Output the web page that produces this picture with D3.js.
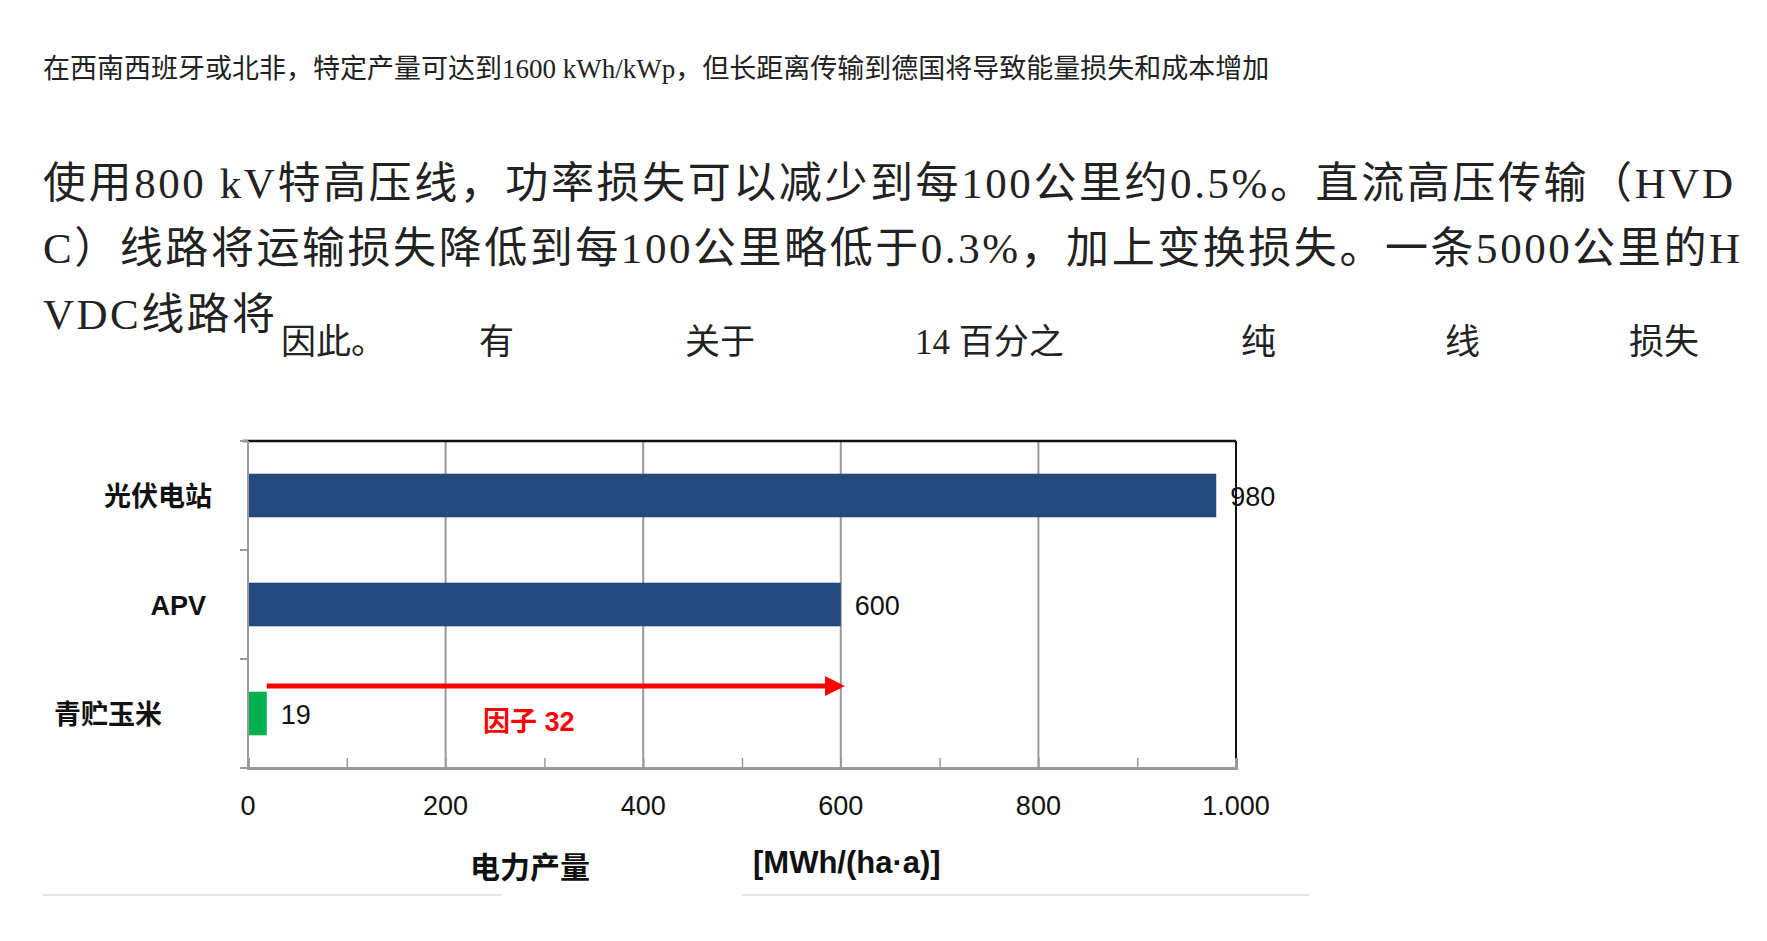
<!DOCTYPE html><html><head><meta charset="utf-8"><script src="https://cdn.jsdelivr.net/npm/d3@7"></script>
<style>body{margin:0;background:#fff}</style></head><body><svg id="c" width="1767" height="941"></svg>
<script>
const categories=["光伏电站","APV","青贮玉米"];
const values=[980,600,19];
const barColors=["#234a7c","#234a7c","#00b050"];
const tickValues=[0,200,400,600,800,1000];
const tickLabels=["0","200","400","600","800","1.000"];
const factorLabel="因子 32";
const svg=d3.select("#c");
const serif="'Liberation Serif','DejaVu Serif','Noto Sans CJK SC',serif";
const sans="'Liberation Sans',Arial,'Noto Sans CJK SC',sans-serif";
svg.append("text").attr("x",43).attr("y",78).attr("font-family",serif).attr("font-size",27).attr("fill","#222").text("在西南西班牙或北非，特定产量可达到1600 kWh/kWp，但长距离传输到德国将导致能量损失和成本增加");
const big=[["使用800 kV特高压线，功率损失可以减少到每100公里约0.5%。直流高压传输（HVD",198,1690],["C）线路将运输损失降低到每100公里略低于0.3%，加上变换损失。一条5000公里的H",263,1697],["VDC线路将",329,232]];
big.forEach(b=>svg.append("text").attr("x",43).attr("y",b[1]).attr("font-family",serif).attr("font-size",43).attr("fill","#222").attr("textLength",b[2]).text(b[0]));
const words=[["因此。",281],["有",479],["关于",685],["14 百分之",915],["纯",1241],["线",1445],["损失",1629]];
words.forEach(w=>svg.append("text").attr("x",w[1]).attr("y",354).attr("font-family",serif).attr("font-size",35).attr("fill","#222").text(w[0]));
const x=d3.scaleLinear().domain([0,1000]).range([248,1236]);
const y=d3.scaleBand().domain(categories).range([441,768]).paddingInner(0.6).paddingOuter(0.3);
const g=svg.append("g");
tickValues.forEach(v=>g.append("line").attr("x1",x(v)).attr("x2",x(v)).attr("y1",441).attr("y2",768).attr("stroke","#9a9a9a").attr("stroke-width",2));
g.append("line").attr("x1",243).attr("x2",x(1000)).attr("y1",441).attr("y2",441).attr("stroke","#111").attr("stroke-width",2.5);
g.append("line").attr("x1",x(1000)).attr("x2",x(1000)).attr("y1",441).attr("y2",768).attr("stroke","#111").attr("stroke-width",2);
g.selectAll("rect").data(values).join("rect").attr("x",x(0)).attr("y",(d,i)=>y(categories[i])).attr("width",d=>x(d)-x(0)).attr("height",y.bandwidth()).attr("fill",(d,i)=>barColors[i]);
const xa=g.append("g").attr("transform","translate(0,768)").call(d3.axisBottom(x).tickValues(d3.range(0,1001,100)).tickSize(-10).tickFormat(""));
xa.select(".domain").attr("stroke","#9a9a9a").attr("stroke-width",3);xa.selectAll("line").attr("stroke","#9a9a9a").attr("stroke-width",1.5);
tickValues.forEach((v,i)=>g.append("text").attr("x",x(v)).attr("y",815).attr("text-anchor","middle").attr("font-family",sans).attr("font-size",27).attr("fill","#111").text(tickLabels[i]));
[441,550,659,768].forEach(t=>g.append("line").attr("x1",240).attr("x2",248).attr("y1",t).attr("y2",t).attr("stroke","#9a9a9a").attr("stroke-width",2));
g.append("line").attr("x1",248).attr("x2",248).attr("y1",441).attr("y2",768).attr("stroke","#9a9a9a").attr("stroke-width",2);
categories.forEach((c,i)=>g.append("text").attr("x",[212,206,162][i]).attr("y",y(c)+y.bandwidth()/2+10).attr("text-anchor","end").attr("font-family",sans).attr("font-weight","bold").attr("font-size",27).attr("fill","#111").text(c));
values.forEach((v,i)=>g.append("text").attr("x",x(v)+14).attr("y",y(categories[i])+y.bandwidth()/2+10).attr("font-family",sans).attr("font-size",27).attr("fill","#111").text(v));
svg.append("defs").append("marker").attr("id","ah").attr("viewBox","0 0 10 10").attr("refX",8).attr("refY",5).attr("markerWidth",4).attr("markerHeight",4).attr("orient","auto").append("path").attr("d","M0,0L10,5L0,10z").attr("fill","#ff0000");
g.append("line").attr("x1",x(values[2])).attr("x2",x(values[1])).attr("y1",686).attr("y2",686).attr("stroke","#ff0000").attr("stroke-width",5).attr("marker-end","url(#ah)");
g.append("text").attr("x",483).attr("y",731).attr("font-family",sans).attr("font-weight","bold").attr("font-size",27).attr("fill","#ff0000").text(factorLabel);
svg.append("text").attr("x",470).attr("y",878).attr("font-family",sans).attr("font-weight","bold").attr("font-size",30).attr("fill","#111").text("电力产量");
svg.append("text").attr("x",753).attr("y",873).attr("font-family",sans).attr("font-weight","bold").attr("font-size",31).attr("fill","#111").text("[MWh/(ha·a)]");
svg.append("line").attr("x1",43).attr("x2",502).attr("y1",895).attr("y2",895).attr("stroke","#ddd").attr("stroke-width",1.5);
svg.append("line").attr("x1",742).attr("x2",1309).attr("y1",895).attr("y2",895).attr("stroke","#ddd").attr("stroke-width",1.5);
</script></body></html>
